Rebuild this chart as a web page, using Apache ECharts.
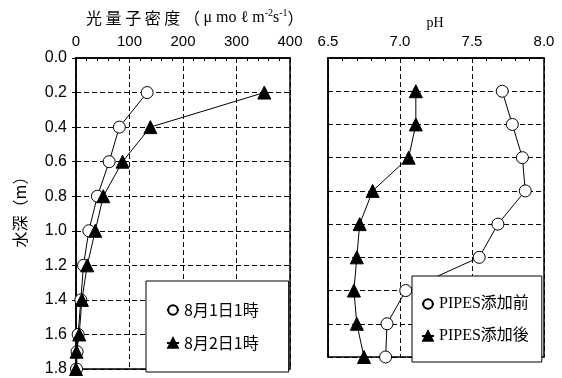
<!DOCTYPE html>
<html><head><meta charset="utf-8">
<script src="https://cdn.jsdelivr.net/npm/echarts@6/dist/echarts.min.js"></script>
<style>html,body{margin:0;padding:0;background:#fff}#c{width:562px;height:378px}</style>
</head><body><div id="c"></div>
<script>
// ---- data ----
const depthTicks = [0.0,0.2,0.4,0.6,0.8,1.0,1.2,1.4,1.6,1.8];
const photonTicks = [0,100,200,300,400];
const phTicks = [6.5,7.0,7.5,8.0];
const depthLeft = [0.2,0.4,0.6,0.8,1.0,1.2,1.4,1.6,1.7,1.8];
const photonAug1 = [133,81,62,40,24,14,9,4,2,1];
const photonAug2 = [352,139,87,51,36,21,11,6,1,0];
const depthRight = [0.2,0.4,0.6,0.8,1.0,1.2,1.4,1.6,1.8];
const phBefore = [7.71,7.78,7.85,7.87,7.68,7.55,7.04,6.91,6.90];
const phAfter = [7.11,7.11,7.06,6.81,6.72,6.70,6.68,6.70,6.75];
const seriesNames = ['8月1日1時','8月2日1時','PIPES添加前','PIPES添加後'];

const pair = (xs, ys) => xs.map((x,i)=>[x, ys[i]]);
const chart = echarts.init(document.getElementById('c'), null, {renderer:'canvas'});
const sans = 'Liberation Sans, Arial, sans-serif';
const cjk = 'Noto Sans CJK JP';
const splitDash = {show:true, lineStyle:{color:'#000', width:1, type:[5,3]}};

function xAx(idx, min, max, interval, dec){
  return {gridIndex:idx, type:'value', position:'top', min, max, interval,
    axisLine:{show:true, lineStyle:{color:'#000', width:1.5}},
    axisTick:{show:true, inside:true, length:4, lineStyle:{color:'#000'}},
    minorTick:{show:true, splitNumber:5, length:3, lineStyle:{color:'#000'}},
    axisLabel:{show:true, color:'#000', fontFamily:sans, fontSize:15, margin:9,
      formatter:v=>dec? v.toFixed(1): String(v)},
    splitLine:splitDash};
}
function yAx(idx, labels){
  return {gridIndex:idx, type:'value', inverse:true, min:0, max:1.8, interval:0.2,
    axisLine:{show:true, lineStyle:{color:'#000', width:1.5}},
    axisTick:{show:labels, inside:false, length:4, lineStyle:{color:'#000'}},
    axisLabel:{show:labels, color:'#000', fontFamily:sans, fontSize:16, margin:9,
      formatter:v=>v.toFixed(1)},
    splitLine:splitDash};
}
const circleStyle = {color:'#fff', borderColor:'#000', borderWidth:1};
const triStyle = {color:'#000', borderColor:'#000', borderWidth:1};
function ser(name, idx, data, sym){
  return {name, type:'line', xAxisIndex:idx, yAxisIndex:idx, data,
    symbol:sym, symbolSize: sym==='circle'?12:13, showSymbol:true,
    lineStyle:{color:'#000', width:1}, itemStyle: sym==='circle'?circleStyle:triStyle,
    z: sym==='circle'?3:4, animation:false};
}
const legendBase = {orient:'vertical', backgroundColor:'#fff', borderColor:'#000', borderWidth:1,
  itemWidth:12, itemHeight:12, textStyle:{color:'#000', fontSize:16}};

chart.setOption({
  animation:false,
  grid:[
    {left:76, top:58, width:214, height:311, show:true, borderColor:'#000', borderWidth:1.5, backgroundColor:'transparent'},
    {left:328, top:58, width:216, height:299, show:true, borderColor:'#000', borderWidth:1.5, backgroundColor:'transparent'}
  ],
  xAxis:[xAx(0, photonTicks[0], photonTicks[photonTicks.length-1], 100, false),
         xAx(1, phTicks[0], phTicks[phTicks.length-1], 0.5, true)],
  yAxis:[yAx(0,true), yAx(1,false)],
  legend:[
    Object.assign({}, legendBase, {data:[seriesNames[0],seriesNames[1]], left:146, top:281,
      itemGap:17, padding:[21,30,21,20], textStyle:{color:'#000', fontSize:16, fontFamily:cjk}}),
    Object.assign({}, legendBase, {data:[seriesNames[2],seriesNames[3]], left:412, top:276,
      itemGap:16, padding:[20,13,18,9], textStyle:{color:'#000', fontSize:16, fontFamily:'Liberation Serif, '+cjk}})
  ],
  series:[
    ser(seriesNames[0],0,pair(photonAug1,depthLeft),'circle'),
    ser(seriesNames[1],0,pair(photonAug2,depthLeft),'triangle'),
    ser(seriesNames[2],1,pair(phBefore,depthRight),'circle'),
    ser(seriesNames[3],1,pair(phAfter,depthRight),'triangle')
  ],
  graphic:[
    {type:'text', left:86, top:8, style:{
      text:'{c|光 量 子 密 度 （ }{r|μ mo ℓ m}{s|-2}{r|s}{s|-1}{c|）}',
      rich:{c:{fontFamily:cjk, fontSize:16, fill:'#000', lineHeight:20},
            r:{fontFamily:'Liberation Serif', fontSize:16, fill:'#000', lineHeight:20},
            s:{fontFamily:'Liberation Serif', fontSize:10, fill:'#000', verticalAlign:'top', lineHeight:14}}}},
    {type:'text', x:435, y:23, style:{text:'pH', font:'14px Liberation Serif', fill:'#000', align:'center', verticalAlign:'middle'}},
    {type:'text', x:20, y:208, rotation:Math.PI/2, style:{text:'水深（m）', font:'16px '+cjk, fill:'#000', align:'center', verticalAlign:'middle'}}
  ]
});
</script></body></html>
